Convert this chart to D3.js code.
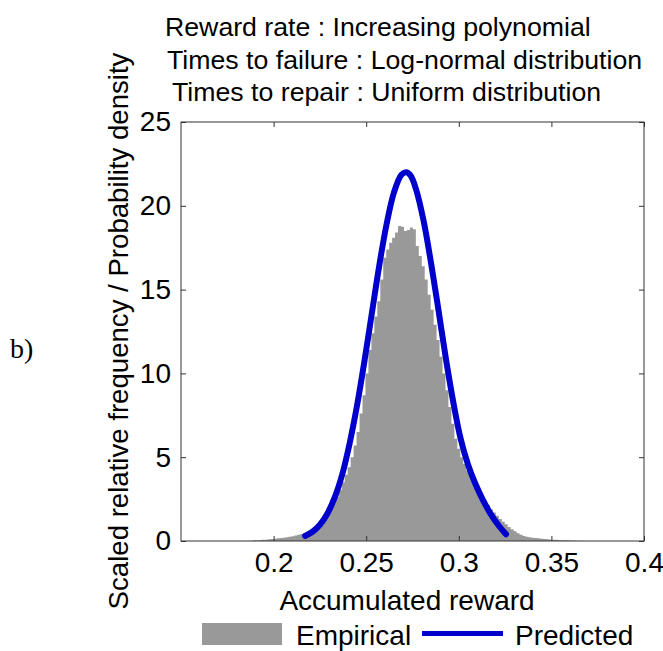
<!DOCTYPE html>
<html><head><meta charset="utf-8">
<script src="https://cdn.jsdelivr.net/npm/d3@7"></script>
<style>body{margin:0;background:#fff}svg{display:block}text{font-family:"Liberation Sans",Arial,sans-serif;fill:#000}</style>
</head><body>
<script>
// ---- data ----
const titleLines = ["Reward rate : Increasing polynomial", "Times to failure : Log-normal distribution", "Times to repair : Uniform distribution"];
const xTicks = [0.2, 0.25, 0.3, 0.35, 0.4];
const yTicks = [0, 5, 10, 15, 20, 25];
const binStart = 0.184, binWidth = 0.0016;
const empirical = [0,0.01,0.02,0.04,0.05,0.06,0.07,0.08,0.10,0.12,0.14,0.16,0.18,0.20,0.23,0.26,0.29,0.33,0.37,0.42,
0.48,0.55,0.64,0.75,0.88,1.03,1.20,1.40,1.65,1.92,2.25,2.62,3.05,3.5,3.95,4.4,5.0,5.7,6.5,7.6,
8.7,10.0,11.4,12.4,13.4,14.3,15.6,16.9,17.4,17.8,18.1,18.4,18.8,18.75,18.5,18.55,18.7,18.6,17.6,17.0,
16.4,15.6,14.7,13.8,12.9,12.0,11.0,10.0,9.0,8.0,7.0,6.1,5.5,5.0,4.6,4.2,3.9,3.55,3.25,3.0,
2.7,2.45,2.15,1.9,1.7,1.5,1.32,1.15,1.0,0.84,0.7,0.58,0.46,0.37,0.3,0.25,0.22,0.2,0.18,0.16,
0.14,0.12,0.1,0.09,0.08,0.07,0.06,0.05,0.04,0.04,0.03,0.03,0.02,0.01,0.01];
const predX = [0.217,0.221,0.225,0.229,0.233,0.237,0.241,0.245,0.249,0.253,0.257,0.261,0.265,0.269,0.2715,0.274,0.277,0.281,0.285,0.289,0.293,0.297,0.301,0.305,0.309,0.313,0.317,0.321,0.3255];
const predY = [0.30,0.55,0.97,1.63,2.6,3.95,5.8,8.05,10.7,13.55,16.4,18.9,20.8,21.85,22.0,21.8,20.95,19.1,16.6,13.8,10.9,8.3,6.1,4.55,3.4,2.45,1.65,1.0,0.4];

// ---- layout ----
const W = 663, H = 651;
const svg = d3.select("body").append("svg").attr("width", W).attr("height", H);
const x = d3.scaleLinear().domain([0.15, 0.4]).range([181, 644]);
const y = d3.scaleLinear().domain([0, 25]).range([541, 122]);
const FS = 28, TFS = 26.7;

// histogram
const bins = empirical.map((v, i) => ({x0: binStart + i * binWidth, v}));
bins.push({x0: binStart + empirical.length * binWidth, v: 0});
svg.append("path").datum(bins)
  .attr("fill", "#999999")
  .attr("d", d3.area().x(d => x(d.x0)).y0(y(0)).y1(d => y(d.v)).curve(d3.curveStepAfter));

// predicted
const pred = predX.map((px, i) => ({x: px, y: predY[i]}));
svg.append("path").datum(pred)
  .attr("fill", "none").attr("stroke", "#0000cc").attr("stroke-width", 6)
  .attr("stroke-linecap", "round").attr("stroke-linejoin", "round")
  .attr("d", d3.line().x(d => x(d.x)).y(d => y(d.y)).curve(d3.curveCatmullRom));

// axes
const axCol = "#333";
function styleAxis(g) {
  g.select(".domain").remove();
  g.selectAll(".tick line").attr("stroke", axCol);
  g.selectAll(".tick text").attr("font-size", FS).attr("font-family", '"Liberation Sans",Arial,sans-serif').attr("fill", "#000");
}
svg.append("g").attr("transform", `translate(0,${y(0)})`)
  .call(d3.axisBottom(x).tickValues(xTicks).tickFormat(d => String(d)).tickSizeInner(-5).tickSizeOuter(0).tickPadding(11))
  .call(styleAxis);
svg.append("g").attr("transform", `translate(0,${y(25)})`)
  .call(d3.axisTop(x).tickValues(xTicks).tickFormat("").tickSizeInner(-5).tickSizeOuter(0))
  .call(styleAxis);
svg.append("g").attr("transform", `translate(${x(0.15)},0)`)
  .call(d3.axisLeft(y).tickValues(yTicks).tickFormat(d => String(d)).tickSizeInner(-5).tickSizeOuter(0).tickPadding(10))
  .call(styleAxis);
svg.append("g").attr("transform", `translate(${x(0.4)},0)`)
  .call(d3.axisRight(y).tickValues(yTicks).tickFormat("").tickSizeInner(-5).tickSizeOuter(0))
  .call(styleAxis);
svg.append("rect").attr("x", x(0.15)).attr("y", y(25)).attr("width", x(0.4) - x(0.15)).attr("height", y(0) - y(25))
  .attr("fill", "none").attr("stroke", axCol).attr("stroke-width", 1);

// titles
const titleX = [165, 167, 172];
titleLines.forEach((t, i) => {
  svg.append("text").attr("x", titleX[i]).attr("y", 36 + i * 32.5).attr("font-size", TFS).text(t);
});

// axis labels
svg.append("text").attr("x", 407).attr("y", 610).attr("text-anchor", "middle").attr("font-size", FS).text("Accumulated reward");
svg.append("text").attr("transform", "translate(128,331) rotate(-90)").attr("text-anchor", "middle").attr("font-size", 27.6)
  .text("Scaled relative frequency / Probability density");

// panel tag
svg.append("text").attr("x", 10).attr("y", 358).attr("font-size", 28)
  .style("font-family", '"Liberation Serif","DejaVu Serif",serif').text("b)");

// legend
svg.append("rect").attr("x", 202).attr("y", 623).attr("width", 80).attr("height", 22).attr("fill", "#999999");
svg.append("text").attr("x", 296).attr("y", 645).attr("font-size", FS).text("Empirical");
svg.append("line").attr("x1", 422).attr("x2", 503).attr("y1", 633.5).attr("y2", 633.5).attr("stroke", "#0000cc").attr("stroke-width", 5);
svg.append("text").attr("x", 515).attr("y", 645).attr("font-size", FS).text("Predicted");
</script>
</body></html>
